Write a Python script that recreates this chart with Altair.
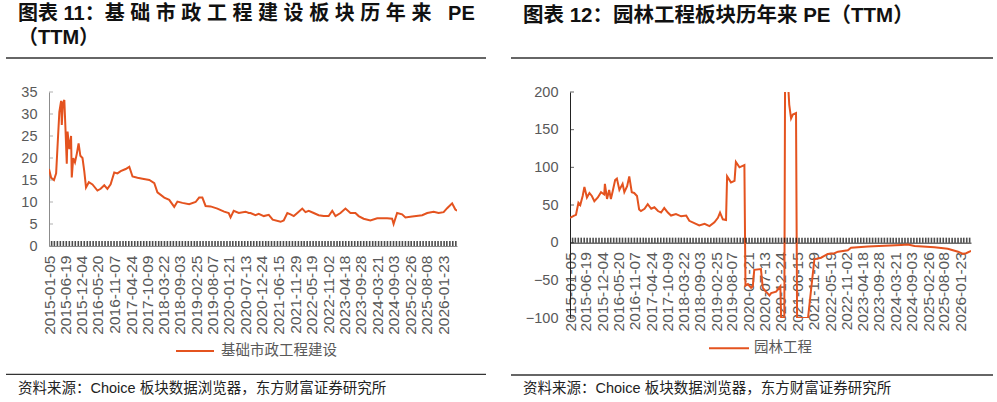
import altair as alt
import pandas as pd

# ---------------- text ----------------
TITLE_L1 = "图表 11：基 础 市 政 工 程 建 设 板 块 历 年 来\u00a0\u00a0\u00a0PE"
TITLE_L2 = "（TTM）"
TITLE_R = "图表 12：园林工程板块历年来 PE（TTM）"
SOURCE = "资料来源：Choice 板块数据浏览器，东方财富证券研究所"
LEGEND_L = "基础市政工程建设"
LEGEND_R = "园林工程"

# ---------------- axis labels ----------------
LABEL_DATES = ["2015-01-05", "2015-06-19", "2015-12-04", "2016-05-20", "2016-11-07",
               "2017-04-24", "2017-10-09", "2018-03-22", "2018-09-03", "2019-02-25",
               "2019-08-07", "2020-01-21", "2020-07-13", "2020-12-24", "2021-06-15",
               "2021-11-29", "2022-05-19", "2022-11-02", "2023-04-18", "2023-09-28",
               "2024-03-21", "2024-09-03", "2025-02-26", "2025-08-08", "2026-01-23"]
Y_TICKS_L = [0, 5, 10, 15, 20, 25, 30, 35]
Y_TICKS_R = [-100, -50, 0, 50, 100, 150, 200]

# ---------------- data (decimal year, PE TTM) ----------------
L_YEARS = [2015.01, 2015.07, 2015.15, 2015.21, 2015.25, 2015.30, 2015.35, 2015.37, 2015.40, 2015.44,
           2015.47, 2015.51, 2015.53, 2015.58, 2015.63, 2015.65, 2015.69, 2015.74, 2015.79, 2015.84,
           2015.89, 2015.95, 2016.00, 2016.05, 2016.13, 2016.23, 2016.37, 2016.46, 2016.56, 2016.65,
           2016.74, 2016.84, 2016.93, 2017.02, 2017.16, 2017.26, 2017.35, 2017.49, 2017.63, 2017.82,
           2017.96, 2018.05, 2018.24, 2018.38, 2018.52, 2018.61, 2018.75, 2018.94, 2019.12, 2019.22,
           2019.31, 2019.40, 2019.54, 2019.73, 2019.92, 2020.05, 2020.10, 2020.19, 2020.33, 2020.52,
           2020.61, 2020.66, 2020.80, 2020.89, 2021.03, 2021.17, 2021.28, 2021.50, 2021.59, 2021.69,
           2021.78, 2021.87, 2021.97, 2022.11, 2022.20, 2022.29, 2022.43, 2022.57, 2022.71, 2022.85,
           2022.95, 2023.04, 2023.18, 2023.32, 2023.46, 2023.60, 2023.69, 2023.83, 2024.02, 2024.21,
           2024.49, 2024.63, 2024.67, 2024.77, 2024.91, 2025.00, 2025.19, 2025.47, 2025.61, 2025.79,
           2025.93, 2026.07, 2026.17, 2026.31, 2026.40, 2026.45]
L_VALUES = [17.5, 15.5, 15.0, 16.5, 22.5, 30.5, 33.0, 27.5, 32.5, 33.2,
            27.0, 18.7, 26.0, 22.0, 25.0, 15.6, 20.0, 19.0, 21.0, 23.3,
            20.5, 20.0, 17.0, 13.3, 14.5, 14.0, 12.6, 13.0, 13.8, 13.0,
            14.0, 16.7, 16.5, 17.0, 17.5, 18.0, 15.8, 15.5, 15.3, 15.0,
            14.3, 12.2, 11.0, 10.5, 8.9, 10.1, 9.8, 9.5, 10.0, 11.0,
            11.0, 9.1, 9.0, 8.5, 7.8, 7.5, 6.5, 8.0, 7.5, 7.8,
            7.5, 7.5, 7.0, 7.3, 6.8, 7.1, 6.0, 5.5, 5.8, 7.5,
            7.2, 6.8, 7.5, 8.5, 7.7, 8.0, 7.5, 7.0, 6.8, 6.8,
            8.0, 6.8, 7.5, 8.5, 7.5, 7.5, 6.8, 6.2, 5.8, 6.3,
            6.3, 6.2, 5.0, 7.5, 7.2, 6.5, 6.7, 7.0, 7.5, 7.8,
            7.5, 7.7, 8.6, 9.7, 8.3, 8.0]

R_YEARS = [2015.01, 2015.13, 2015.18, 2015.25, 2015.30, 2015.37, 2015.42, 2015.49, 2015.56, 2015.63,
           2015.70, 2015.80, 2015.89, 2015.98, 2016.00, 2016.06, 2016.12, 2016.17, 2016.22, 2016.29,
           2016.34, 2016.41, 2016.50, 2016.55, 2016.63, 2016.69, 2016.76, 2016.83, 2016.91, 2016.97,
           2017.02, 2017.12, 2017.21, 2017.31, 2017.40, 2017.50, 2017.59, 2017.68, 2017.78, 2017.87,
           2018.01, 2018.16, 2018.30, 2018.39, 2018.53, 2018.67, 2018.82, 2018.96, 2019.10, 2019.20,
           2019.26, 2019.34, 2019.43, 2019.46, 2019.57, 2019.67, 2019.71, 2019.81, 2019.90, 2019.95,
           2019.98, 2020.05, 2020.14, 2020.19, 2020.23, 2020.42, 2020.47, 2020.56, 2020.66, 2020.71,
           2020.85, 2020.97, 2020.99, 2021.08, 2021.10, 2021.18, 2021.22, 2021.27, 2021.32, 2021.41,
           2021.44, 2021.75, 2021.93, 2022.12, 2022.31, 2022.50, 2022.60, 2022.88, 2022.97, 2023.45,
           2023.92, 2024.39, 2024.58, 2024.77, 2025.33, 2025.71, 2026.00, 2026.14, 2026.23, 2026.37]
R_VALUES = [33, 36, 37, 53, 50, 62, 74, 60, 66, 62,
            55, 60, 67, 64, 78, 58, 70, 58, 68, 83,
            85, 70, 78, 67, 75, 88, 67, 66, 62, 44,
            42, 45, 51, 45, 47, 42, 40, 46, 40, 36,
            38, 35, 36, 29, 26, 23, 25, 22, 27, 33,
            40, 31, 30, 88, 80, 82, 107, 100, 102, 103,
            -57, -55, -60, -58, -36, -35, -60, -65, -70, -67,
            -65, -58, -100, -100, 230, 215, 183, 165, 170, 172,
            -100, -100, -22, -20, -15, -14, -12, -10, -6.6, -5,
            -4, -3, -2.5, -4.5, -6, -8, -12, -15, -14, -11]

# ---------------- style ----------------
ORANGE = "#E4531F"
LABEL_GRAY = "#595959"
AXIS_GRAY = "#8C8C8C"
NUM_FONT = "Liberation Sans"
CJK_FONT = "Liberation Sans, Noto Sans CJK SC"


def to_dates(years):
    out = []
    for y in years:
        yr = int(y)
        out.append(pd.Timestamp(yr, 1, 1) + pd.Timedelta(days=round((y - yr) * 365.25)))
    return out


def dt(s):
    y, m, d = (int(p) for p in s.split("-"))
    return alt.DateTime(year=y, month=m, date=d)


def panel(years, values, x_end, width, height, ydom, yticks, axis_color, x_offset,
          title_items, rules, legend_line, legend_text_pos, legend_label):
    df = pd.DataFrame({"date": to_dates(years), "pe": values})
    xscale = alt.Scale(domain=[dt("2015-01-05"), dt(x_end)])
    yscale = alt.Scale(domain=ydom, nice=False, zero=False)
    xaxis = alt.Axis(values=[dt(s) for s in LABEL_DATES], format="%Y-%m-%d", labelAngle=-90,
                     labelAlign="right", labelBaseline="middle", labelPadding=9, tickSize=0,
                     ticks=False, labelFontSize=15.5, labelColor=LABEL_GRAY, labelFont=NUM_FONT,
                     domainColor=axis_color, domainWidth=1, labelOverlap=False, labelFlush=False,
                     labelBound=False, grid=False, title=None, offset=x_offset)
    yaxis = alt.Axis(values=yticks, tickSize=0, ticks=False, labelPadding=12, labelFontSize=14.5,
                     labelColor=LABEL_GRAY, labelFont=NUM_FONT, domainColor=axis_color,
                     domainWidth=1, grid=False, title=None)
    X = alt.X("date:T", scale=xscale, axis=xaxis)
    Y = alt.Y("pe:Q", scale=yscale, axis=yaxis)

    line = alt.Chart(df).mark_line(color=ORANGE, strokeWidth=2, clip=True).encode(x=X, y=Y)

    tick_dates = pd.date_range("2015-01-05", x_end, freq="MS")
    tdf = pd.DataFrame({"date": tick_dates, "pe": [0] * len(tick_dates)})
    xticks = alt.Chart(tdf).mark_tick(orient="vertical", size=5, thickness=1.6, color="#000",
                                      yOffset=-2.5).encode(x=X, y=Y)

    ydf = pd.DataFrame({"pe": yticks, "date": [tick_dates[0]] * len(yticks)})
    yt = alt.Chart(ydf).mark_tick(orient="horizontal", size=4, thickness=1, color=axis_color,
                                  xOffset=2).encode(y=Y, x=alt.value(0))

    layers = [line, xticks, yt]
    for (txt, x, y, size, weight, color) in title_items:
        layers.append(
            alt.Chart(pd.DataFrame({"t": [txt]})).mark_text(
                align="left", baseline="middle", fontSize=size, fontWeight=weight,
                font=CJK_FONT, color=color).encode(text="t:N", x=alt.value(x), y=alt.value(y)))
    for (x1, x2, y, color, w) in rules:
        layers.append(
            alt.Chart(pd.DataFrame({"k": [0]})).mark_rule(color=color, strokeWidth=w).encode(
                x=alt.value(x1), x2=alt.value(x2), y=alt.value(y)))
    lx1, lx2, ly = legend_line
    layers.append(
        alt.Chart(pd.DataFrame({"k": [0]})).mark_rule(color=ORANGE, strokeWidth=2).encode(
            x=alt.value(lx1), x2=alt.value(lx2), y=alt.value(ly)))
    layers.append(
        alt.Chart(pd.DataFrame({"t": [legend_label]})).mark_text(
            align="left", baseline="middle", fontSize=14.5, font="Noto Sans CJK SC",
            color=LABEL_GRAY).encode(text="t:N", x=alt.value(legend_text_pos[0]),
                                     y=alt.value(legend_text_pos[1])))
    return alt.layer(*layers).properties(width=width, height=height)


H_L = 154
H_R = 226

left = panel(
    L_YEARS, L_VALUES, "2026-06-13", 408, H_L, [0, 35], Y_TICKS_L, AXIS_GRAY, 0,
    [(TITLE_L1, -31, -78.5, 20, "bold", "#111"),
     (TITLE_L2, -31, -54, 20, "bold", "#111"),
     (SOURCE, -31, 297, 14.5, "normal", "#222")],
    [(-48, -47.9, -91, "white", 0.01),
     (-43, 437, -34, "#333", 1.3),
     (-43, 437, 282.3, "#333", 1.3)],
    (127, 165, 259), (172, 259), LEGEND_L)

right = panel(
    R_YEARS, R_VALUES, "2026-05-15", 401, H_R, [-100, 200], Y_TICKS_R, "#222",
    -H_R * 100 / 300,
    [(TITLE_R, -47, -76.5, 20.5, "bold", "#111"),
     (SOURCE, -47, 297, 14.5, "normal", "#222")],
    [(-59, 423, -34, "#333", 1.3),
     (-59, 423, 283, "#333", 1.3)],
    (139, 179, 256.3), (184, 256.3), LEGEND_R)

chart = alt.hconcat(left, right, spacing=113, bounds="flush").properties(
    padding=0, background="white"
).configure_view(stroke=None)

chart.save("out.html", embed_options={"renderer": "svg", "actions": False})
